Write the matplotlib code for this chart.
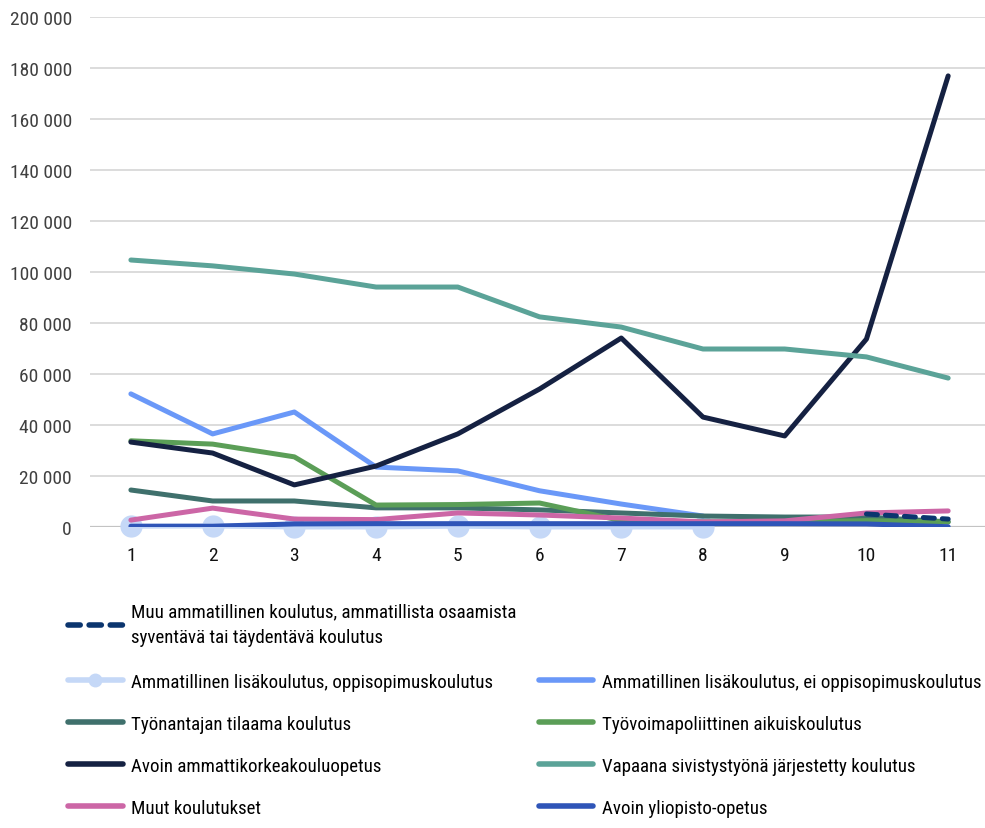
import numpy as np
import matplotlib
matplotlib.use("Agg")
import matplotlib.pyplot as plt
from matplotlib import font_manager
from matplotlib.ticker import FuncFormatter, MultipleLocator
from matplotlib.lines import Line2D

# pick a narrow font if one is there
names = set(f.name for f in font_manager.fontManager.ttflist)
for cand in ["Liberation Sans Narrow", "DejaVu Sans Condensed", "Roboto Condensed", "Open Sans Condensed", "Liberation Sans"]:
    if cand in names:
        fam = cand
        break
else:
    fam = "DejaVu Sans"
plt.rcParams['font.family'] = [fam, 'DejaVu Sans']

nan = np.nan
x = np.arange(1, 12)

# values
muu_ammatillinen = [nan, nan, nan, nan, nan, nan, nan, nan, nan, 5100, 3100]
lisakoulutus_oppisopimus = [300, 400, 0, 0, 300, 0, 0, 0, nan, nan, nan]
lisakoulutus_ei_oppisopimus = [52200, 36500, 45100, 23500, 22000, 14200, 9000, 4300, nan, nan, nan]
tyonantajan_tilaama = [14500, 10200, 10200, 7500, 7500, 6700, 5500, 4300, 3900, 3900, 2000]
tyovoimapoliittinen = [33800, 32500, 27500, 8600, 8800, 9400, 2500, 2000, 2000, 2500, 2000]
avoin_amk = [33300, 29000, 16500, 23900, 36500, 54100, 74100, 43100, 35700, 73700, 176900]
vapaa_sivistystyo = [104700, 102400, 99200, 94100, 94100, 82400, 78400, 69800, 69800, 66700, 58400]
muut_koulutukset = [2700, 7400, 3100, 2900, 5500, 4700, 3500, 2000, 2400, 5500, 6300]
avoin_yliopisto = [300, 300, 1200, 1300, 1300, 1300, 1300, 1300, 1300, 1200, 100]

labels = [
    "Muu ammatillinen koulutus, ammatillista osaamista\nsyventävä tai täydentävä koulutus",
    "Ammatillinen lisäkoulutus, oppisopimuskoulutus",
    "Ammatillinen lisäkoulutus, ei oppisopimuskoulutus",
    "Työnantajan tilaama koulutus",
    "Työvoimapoliittinen aikuiskoulutus",
    "Avoin ammattikorkeakouluopetus",
    "Vapaana sivistystyönä järjestetty koulutus",
    "Muut koulutukset",
    "Avoin yliopisto-opetus",
]

fig = plt.figure(figsize=(9.85, 8.29), dpi=100)
ax = fig.add_axes([0.0914, 0.3631, 0.9127, 0.6152])

lw = 3.6
ax.plot(x, lisakoulutus_oppisopimus, color="#C5D8F7", lw=lw, marker="o", ms=15,
        solid_capstyle="round", zorder=2, clip_on=False)
ax.plot(x, lisakoulutus_ei_oppisopimus, color="#6A98F8", lw=lw, solid_capstyle="round", zorder=3)
ax.plot(x, tyonantajan_tilaama, color="#3F706C", lw=lw, solid_capstyle="round", zorder=4)
ax.plot(x, tyovoimapoliittinen, color="#5B9E57", lw=lw, solid_capstyle="round", zorder=5)
ax.plot(x, avoin_amk, color="#152142", lw=lw, solid_capstyle="round", zorder=6)
ax.plot(x, vapaa_sivistystyo, color="#5BA398", lw=lw, solid_capstyle="round", zorder=7)
ax.plot(x, muut_koulutukset, color="#CC66A6", lw=lw, solid_capstyle="round", zorder=8)
ax.plot(x, avoin_yliopisto, color="#2F55B8", lw=lw, solid_capstyle="round", zorder=9)
ax.plot(x, muu_ammatillinen, color="#0B356E", lw=lw, linestyle=(0, (2.2, 1.6)),
        dash_capstyle="round", zorder=10)

ax.set_xlim(0.5, 11.5)
ax.set_ylim(0, 200000)
ax.yaxis.set_major_locator(MultipleLocator(20000))
ax.yaxis.set_major_formatter(FuncFormatter(lambda v, p: "{:,}".format(int(v)).replace(",", " ")))
ax.set_xticks(x)
ax.grid(axis="y", color="#D9D9D9", lw=1.3, zorder=0)
ax.axhline(0, color="black", lw=2.2, zorder=1)
for s in ax.spines.values():
    s.set_visible(False)
ax.tick_params(axis="y", length=0, pad=13, labelsize=14, labelcolor="#404040")
ax.tick_params(axis="x", length=0, pad=14, labelsize=14, labelcolor="#111111")

# legend: the first entry alone, the rest in two columns
def h(color, **kw):
    return Line2D([], [], color=color, lw=4, solid_capstyle="round", **kw)

leg_kw = dict(frameon=False, fontsize=13.6, handlelength=2.9, handletextpad=0.45,
              borderpad=0, borderaxespad=0, loc="upper left")

dash_h = Line2D([], [], color="#0B356E", lw=4, linestyle=(0, (2.2, 1.6)), dash_capstyle="round")
leg1 = fig.legend([dash_h], [labels[0]], bbox_to_anchor=(0.069, 0.272), **leg_kw)
for t in leg1.get_texts():
    t.set_linespacing(1.55)

handles = [
    h("#C5D8F7", marker="o", ms=9),
    h("#3F706C"),
    h("#152142"),
    h("#CC66A6"),
    h("#6A98F8"),
    h("#5B9E57"),
    h("#5BA398"),
    h("#2F55B8"),
]
leg_labels = [labels[1], labels[3], labels[5], labels[7],
              labels[2], labels[4], labels[6], labels[8]]
fig.legend(handles, leg_labels, ncol=2, bbox_to_anchor=(0.069, 0.187),
           columnspacing=2.4, labelspacing=1.27, **leg_kw)

fig.savefig("out.png", dpi=100)
